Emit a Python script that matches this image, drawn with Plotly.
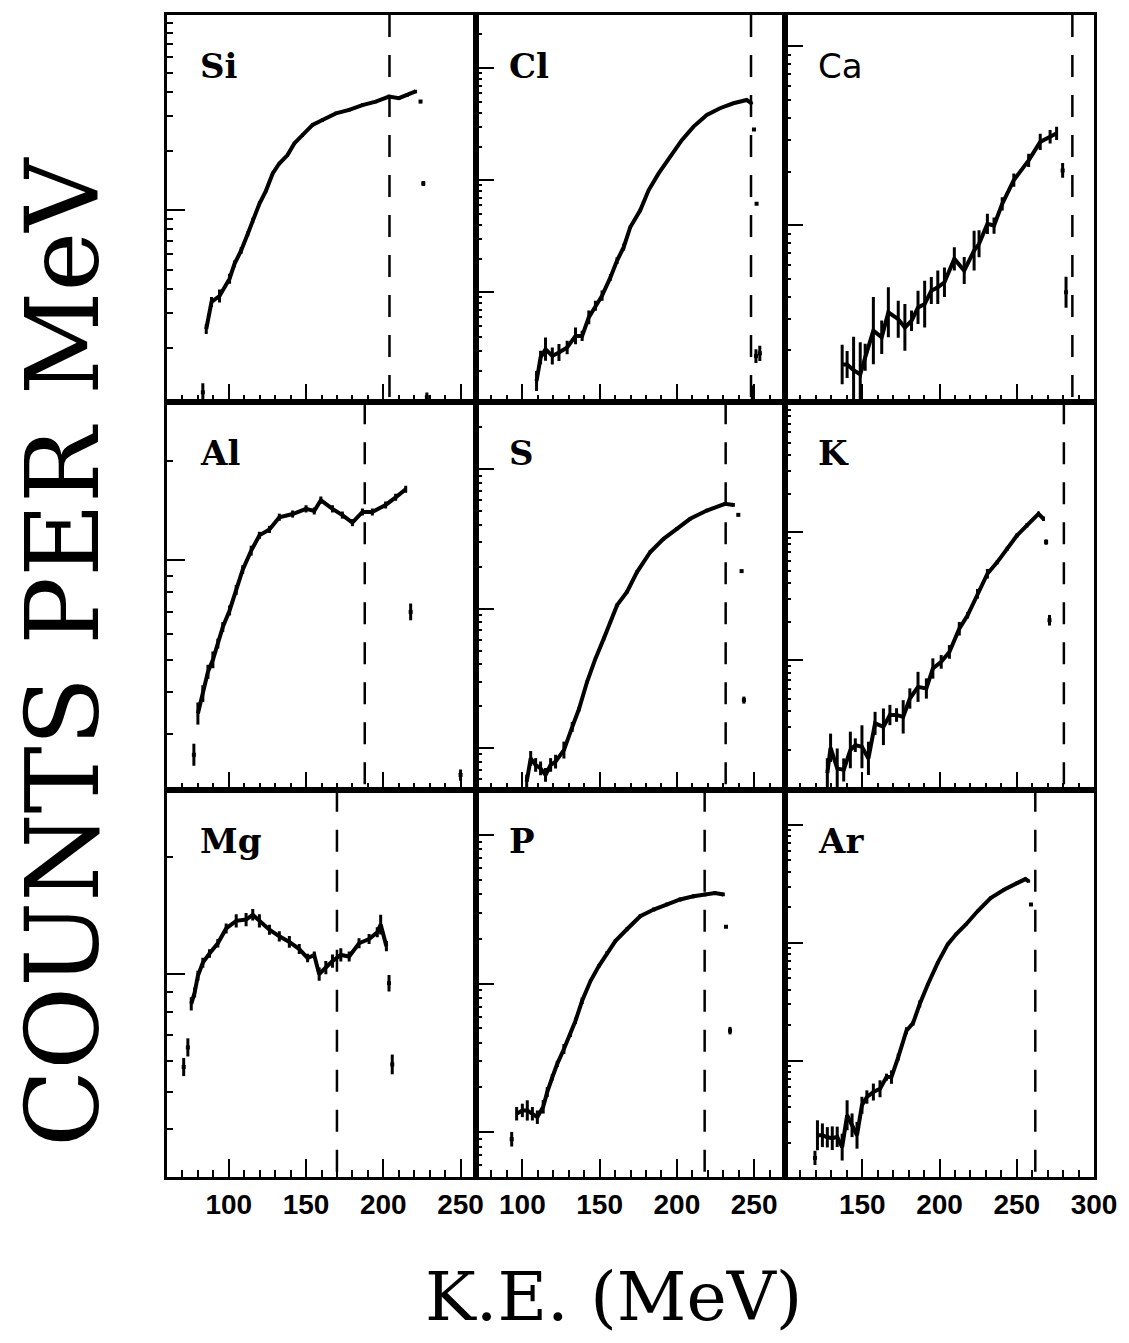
import numpy as np
import plotly.graph_objects as go
from plotly.subplots import make_subplots

# ---------------------------------------------------------------
# Fragment kinetic-energy spectra (MeV) vs counts per MeV.
# *_e : bin energy, *_v : counts per MeV, *_err : fractional error
# *_iso_* : isolated bins drawn without a connecting line
# *_edge : kinematic limit (dashed line)
# ---------------------------------------------------------------

# Si
si_e = [85.4, 88.8, 94.0, 100.5, 103.7, 108.0, 112.3, 115.5, 119.8, 124.1, 128.4, 132.7, 138.0,
        142.4, 147.7, 154.2, 160.6, 169.3, 177.9, 186.5, 195.1, 203.7, 210.1, 215.5, 220.9]
si_v = [24.9, 34.2, 36.7, 44.9, 53.5, 62.5, 76.0, 88.9, 108, 126, 154, 173, 191,
        219, 241, 272, 288, 311, 324, 343, 357, 379, 372, 386, 402]
si_err = [0.06, 0.06, 0.08, 0.06, 0.04, 0.04, 0.03, 0.03, 0.03, 0.02, 0.02, 0.02, 0.02,
          0.02, 0.02, 0.02, 0.02, 0.02, 0.02, 0.02, 0.02, 0.02, 0.02, 0.02, 0.02]
si_iso_e = [83.2, 224.1, 225.9, 228.2]
si_iso_v = [11.9, 357, 137, 11.2]
si_iso_err = [0.11, 0.02, 0.03, 0.06]
si_edge = 204

# Cl
cl_e = [109.2, 111.8, 115.0, 119.4, 123.7, 129.0, 134.4, 138.7, 143.0, 147.3, 151.6, 157.0, 161.3,
        165.6, 169.9, 176.3, 181.7, 188.2, 195.7, 203.2, 210.8, 219.4, 227.9, 236.6, 245.2, 248.4]
cl_v = [1.62, 2.62, 3.11, 2.71, 2.91, 3.22, 4.09, 4.09, 5.98, 7.60, 9.34, 13.6, 19.2,
        25.3, 38.3, 53.9, 81.3, 115, 162, 228, 301, 382, 439, 486, 520, 486]
cl_err = [0.23, 0.15, 0.27, 0.19, 0.19, 0.15, 0.19, 0.11, 0.15, 0.11, 0.11, 0.07, 0.07,
          0.07, 0.04, 0.04, 0.03, 0.02, 0.02, 0.02, 0.02, 0.02, 0.02, 0.02, 0.02, 0.02]
cl_iso_e = [248.8, 249.9, 251.2, 251.6, 253.7]
cl_iso_v = [1.23, 284, 2.70, 61.8, 2.86]
cl_iso_err = [0.2, 0.03, 0.15, 0.03, 0.17]
cl_edge = 248

# Ca
ca_e = [137.0, 140.2, 144.4, 148.7, 151.9, 157.2, 162.6, 166.9, 173.3, 177.6, 181.9, 186.1, 190.4, 194.7,
        198.9, 203.2, 209.6, 216.0, 222.4, 225.6, 231.0, 235.3, 240.6, 248.1, 257.7, 265.2, 271.6, 275.8]
ca_v = [1.67, 1.67, 1.55, 1.47, 1.83, 2.58, 2.37, 3.27, 2.99, 2.69, 2.93, 3.48, 3.63, 4.32,
        4.51, 4.81, 6.50, 5.59, 7.23, 7.89, 10.2, 9.98, 13.2, 17.9, 23.1, 29.3, 31.3, 32.7]
ca_err = [0.29, 0.19, 0.54, 0.51, 0.19, 0.54, 0.24, 0.38, 0.27, 0.35, 0.14, 0.24, 0.35, 0.19,
          0.24, 0.21, 0.16, 0.19, 0.29, 0.19, 0.14, 0.11, 0.09, 0.09, 0.09, 0.11, 0.09, 0.09]
ca_iso_e = [279.7, 281.9]
ca_iso_v = [20.3, 4.23]
ca_iso_err = [0.1, 0.22]
ca_edge = 286

# Al
al_e = [80.0, 83.2, 86.5, 89.7, 92.9, 96.1, 100.5, 104.8, 109.0, 114.5, 119.8, 126.3, 132.7,
        141.3, 150.0, 155.3, 159.6, 167.1, 173.5, 180.0, 186.5, 192.9, 201.5, 208.0, 214.5]
al_v = [34.5, 39.6, 46.1, 50.1, 56.1, 62.9, 70.6, 81.5, 93.8, 107, 119, 124, 135,
        138, 143, 141, 152, 143, 137, 130, 140, 140, 147, 155, 164]
al_err = [0.08, 0.06, 0.05, 0.06, 0.035, 0.035, 0.035, 0.035, 0.03, 0.035, 0.025, 0.025, 0.025,
          0.025, 0.025, 0.025, 0.025, 0.025, 0.025, 0.025, 0.025, 0.025, 0.025, 0.025, 0.025]
al_iso_e = [77.4, 217.7, 250.0]
al_iso_v = [25.9, 69.9, 22.5]
al_iso_err = [0.08, 0.06, 0.04]
al_edge = 188

# S
s_e = [102.8, 105.4, 108.6, 111.8, 115.0, 118.3, 121.5, 126.9, 132.3, 136.6, 141.9, 147.3,
       152.7, 157.0, 161.3, 167.7, 174.2, 182.8, 191.4, 200.0, 208.6, 219.4, 231.2, 236.6]
s_v = [5.74, 8.43, 7.57, 7.16, 6.42, 7.57, 8.00, 9.68, 14.2, 19.0, 29.9, 43.8,
       61.0, 80.3, 106, 132, 183, 255, 317, 374, 441, 506, 565, 555]
s_err = [0.12, 0.13, 0.12, 0.12, 0.12, 0.12, 0.12, 0.15, 0.085, 0.04, 0.03, 0.03,
         0.03, 0.03, 0.03, 0.03, 0.03, 0.03, 0.03, 0.03, 0.03, 0.03, 0.03, 0.03]
s_iso_e = [239.8, 241.9, 243.4]
s_iso_v = [471, 186, 22.1]
s_iso_err = [0.02, 0.02, 0.06]
s_edge = 231.6

# K
k_e = [127.4, 129.5, 133.8, 138.0, 142.3, 145.5, 149.8, 154.0, 158.3, 163.7, 167.9, 172.2, 176.5, 180.8, 186.1,
       191.5, 195.7, 201.1, 206.4, 212.8, 218.2, 224.6, 231.0, 237.4, 243.8, 250.2, 256.6, 264.1, 267.3]
k_v = [1.31, 2.07, 1.43, 1.39, 1.99, 2.17, 2.11, 1.71, 3.21, 3.02, 3.73, 3.73, 3.61, 5.02, 6.19,
       6.01, 8.61, 9.70, 11.6, 17.6, 22.4, 33.0, 47.3, 58.3, 74.1, 94.2, 113, 139, 127]
k_err = [0.31, 0.29, 0.43, 0.23, 0.39, 0.13, 0.47, 0.35, 0.23, 0.39, 0.2, 0.13, 0.35, 0.2, 0.31,
         0.2, 0.2, 0.13, 0.13, 0.13, 0.06, 0.09, 0.09, 0.04, 0.04, 0.04, 0.04, 0.04, 0.04]
k_iso_e = [269.0, 271.2]
k_iso_v = [83.6, 20.5]
k_iso_err = [0.05, 0.1]
k_edge = 280.5

# Mg
mg_e = [75.7, 77.9, 80.0, 83.2, 87.5, 92.9, 98.3, 104.8, 111.2, 115.5, 119.8, 126.3, 132.7, 139.2,
        145.6, 151.0, 155.3, 158.5, 162.8, 167.1, 172.5, 177.9, 184.3, 190.8, 196.1, 198.3, 202.0]
mg_v = [83.9, 89.7, 99.1, 107, 113, 120, 131, 137, 138, 142, 137, 130, 125, 121,
        116, 110, 112, 100, 104, 108, 112, 111, 120, 123, 128, 134, 118]
mg_err = [0.04, 0.03, 0.03, 0.03, 0.025, 0.025, 0.03, 0.04, 0.04, 0.035, 0.04, 0.03, 0.03, 0.035,
          0.03, 0.025, 0.02, 0.04, 0.04, 0.04, 0.04, 0.03, 0.03, 0.03, 0.03, 0.06, 0.03]
mg_iso_e = [70.8, 73.5, 203.7, 205.8]
mg_iso_v = [57.8, 64.9, 94.8, 58.7]
mg_iso_err = [0.055, 0.055, 0.05, 0.06]
mg_edge = 170

# P
p_e = [96.3, 100.0, 103.2, 106.5, 109.7, 113.5, 116.1, 119.4, 122.6, 126.9, 131.2, 134.4, 138.7,
       144.1, 149.5, 154.8, 160.2, 167.7, 176.3, 185.0, 193.5, 202.1, 210.8, 218.3, 224.7, 230.1]
p_v = [13.3, 14.0, 14.0, 13.3, 12.6, 14.8, 18.6, 23.4, 28.8, 36.3, 45.8, 56.2, 76.6,
       104, 131, 161, 193, 232, 284, 315, 341, 368, 387, 398, 407, 398]
p_err = [0.11, 0.11, 0.17, 0.11, 0.11, 0.11, 0.08, 0.05, 0.05, 0.08, 0.05, 0.05, 0.05,
         0.03, 0.03, 0.03, 0.03, 0.03, 0.03, 0.03, 0.03, 0.03, 0.03, 0.03, 0.03, 0.03]
p_iso_e = [93.1, 231.8, 234.4]
p_iso_v = [8.96, 241, 48.2]
p_iso_err = [0.12, 0.02, 0.06]
p_edge = 218

# Ar
ar_e = [121.0, 124.2, 127.4, 130.6, 133.8, 137.0, 140.2, 143.4, 146.6, 149.8, 153.0, 157.2, 161.5, 165.7, 168.9,
        173.3, 178.6, 182.9, 187.2, 192.5, 198.9, 205.3, 210.7, 217.1, 224.6, 233.1, 241.7, 250.2, 255.6, 257.7]
ar_v = [2.32, 2.32, 2.23, 2.19, 2.25, 1.84, 3.43, 2.82, 2.32, 4.17, 4.90, 5.40, 5.76, 7.23, 7.23,
        10.7, 17.9, 20.8, 30.2, 44.5, 67.8, 96.9, 118, 143, 185, 240, 282, 321, 347, 333]
ar_err = [0.34, 0.26, 0.22, 0.26, 0.22, 0.3, 0.34, 0.26, 0.3, 0.18, 0.14, 0.18, 0.18, 0.07, 0.14,
          0.07, 0.07, 0.05, 0.07, 0.03, 0.03, 0.03, 0.03, 0.03, 0.03, 0.03, 0.03, 0.03, 0.03, 0.03]
ar_iso_e = [119.4, 259.2]
ar_iso_v = [1.49, 211]
ar_iso_err = [0.15, 0.03]
ar_edge = 262

# x tick labels per column
xticks_left = [100, 150, 200, 250]
xticks_mid = [100, 150, 200, 250]
xticks_right = [150, 200, 250, 300]

# ---------------------------------------------------------------
panels = [
    ("Si", 1, 1, si_e, si_v, si_err, si_iso_e, si_iso_v, si_iso_err, si_edge, [1.024, 2.993]),
    ("Cl", 1, 2, cl_e, cl_v, cl_err, cl_iso_e, cl_iso_v, cl_iso_err, cl_edge, [0.019, 3.474]),
    ("Ca", 1, 3, ca_e, ca_v, ca_err, ca_iso_e, ca_iso_v, ca_iso_err, ca_edge, [0.011, 2.176]),
    ("Al", 2, 1, al_e, al_v, al_err, al_iso_e, al_iso_v, al_iso_err, al_edge, [1.308, 2.477]),
    ("S", 2, 2, s_e, s_v, s_err, s_iso_e, s_iso_v, s_iso_err, s_edge, [0.702, 3.48]),
    ("K", 2, 3, k_e, k_v, k_err, k_iso_e, k_iso_v, k_iso_err, k_edge, [-0.011, 3.013]),
    ("Mg", 3, 1, mg_e, mg_v, mg_err, mg_iso_e, mg_iso_v, mg_iso_err, mg_edge, [1.48, 2.473]),
    ("P", 3, 2, p_e, p_v, p_err, p_iso_e, p_iso_v, p_iso_err, p_edge, [0.698, 3.305]),
    ("Ar", 3, 3, ar_e, ar_v, ar_err, ar_iso_e, ar_iso_v, ar_iso_err, ar_edge, [0.011, 3.30]),
]

x_ranges = {1: [60, 260], 2: [70, 270], 3: [100, 300]}
x_major = {1: xticks_left, 2: xticks_mid, 3: xticks_right}

fig = make_subplots(rows=3, cols=3, horizontal_spacing=0, vertical_spacing=0)

INK = "black"


def err_bars(v, f):
    v = np.asarray(v, float)
    f = np.asarray(f, float)
    return dict(type="data", symmetric=False, array=v * f, arrayminus=v * f / (1 + f),
                color=INK, thickness=3, width=0)


def log_ticks(lo, hi):
    major, minor = [], []
    for k in range(int(np.floor(lo)) - 1, int(np.ceil(hi)) + 1):
        if lo <= k <= hi:
            major.append(10.0 ** k)
        for m in range(2, 10):
            t = m * 10.0 ** k
            if lo <= np.log10(t) <= hi:
                minor.append(t)
    return major, minor


for idx, (name, r, c, e, v, f, ie, iv, ierr, edge, yr) in enumerate(panels, start=1):
    fig.add_trace(go.Scatter(x=e, y=v, mode="lines", line=dict(color=INK, width=4),
                             error_y=err_bars(v, f), showlegend=False, hoverinfo="skip"),
                  row=r, col=c)
    fig.add_trace(go.Scatter(x=ie, y=iv, mode="markers",
                             marker=dict(color=INK, size=4, symbol="square"),
                             error_y=err_bars(iv, ierr), showlegend=False, hoverinfo="skip"),
                  row=r, col=c)

    sfx = "" if idx == 1 else str(idx)
    fig.add_shape(type="line", x0=edge, x1=edge, y0=1, y1=0,
                  xref=f"x{sfx}", yref=f"y{sfx} domain",
                  line=dict(color=INK, width=2.5, dash="22px,18px"))

    fam = "DejaVu Sans" if name == "Ca" else "DejaVu Serif"
    wt = "normal" if name == "Ca" else "bold"
    fig.add_annotation(text=name, xref=f"x{sfx} domain", yref=f"y{sfx} domain",
                       x=0.1, y=0.868, xanchor="left", yanchor="middle", showarrow=False,
                       font=dict(family=fam, size=34, color=INK, weight=wt))

    lo, hi = x_ranges[c]
    fig.update_xaxes(range=x_ranges[c], showline=True, mirror=True, linecolor=INK, linewidth=3,
                     ticks="inside", ticklen=18, tickwidth=2, tickcolor=INK,
                     tickvals=x_major[c], showgrid=False, zeroline=False,
                     minor=dict(tickvals=list(range(lo, hi + 1, 10)), ticks="inside", ticklen=7,
                                tickwidth=2, tickcolor=INK, showgrid=False),
                     showticklabels=(r == 3),
                     tickfont=dict(family="Liberation Sans", size=28, color=INK, weight="bold"),
                     row=r, col=c)

    ymaj, ymin = log_ticks(*yr)
    fig.update_yaxes(type="log", range=yr, showline=True, mirror=True, linecolor=INK, linewidth=3,
                     ticks="inside", ticklen=18, tickwidth=2, tickcolor=INK,
                     tickvals=ymaj, showticklabels=False, showgrid=False, zeroline=False,
                     minor=dict(tickvals=ymin, ticks="inside", ticklen=6, tickwidth=2,
                                tickcolor=INK, showgrid=False),
                     row=r, col=c)

fig.add_annotation(text="COUNTS PER MeV", xref="paper", yref="paper", x=-0.112, y=0.452,
                   textangle=-90, showarrow=False, xanchor="center", yanchor="middle",
                   font=dict(family="DejaVu Serif", size=101, color=INK))
fig.add_annotation(text="K.E. (MeV)", xref="paper", yref="paper", x=0.482, y=-0.103,
                   showarrow=False, xanchor="center", yanchor="middle",
                   font=dict(family="DejaVu Serif", size=68, color=INK))

fig.update_layout(width=1129, height=1343, paper_bgcolor="white", plot_bgcolor="white",
                  margin=dict(l=167, r=29, t=12, b=166), showlegend=False)

fig.write_html("out.html")
